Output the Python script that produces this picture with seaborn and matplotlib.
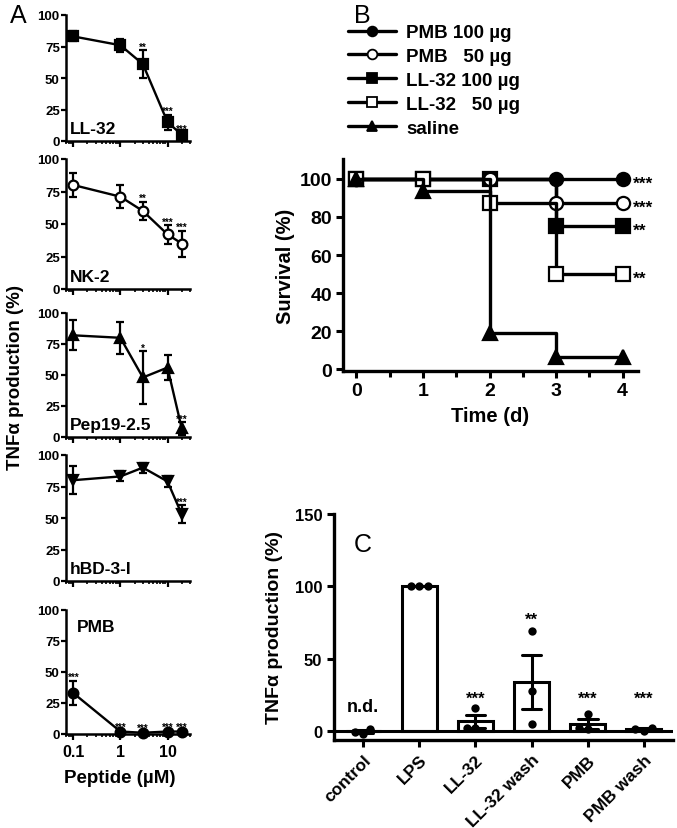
import seaborn as sns
import matplotlib.pyplot as plt
import matplotlib.ticker as mticker
from matplotlib.lines import Line2D
import numpy as np
import pandas as pd

# ---- panel A: TNFa production vs peptide concentration ----
conc = [0.1, 1, 3, 10, 20]
peptides = ['LL-32', 'NK-2', 'Pep19-2.5', 'hBD-3-I', 'PMB']
ll32_mean = [83, 76, 61, 15, 5]
ll32_err = [4, 5, 11, 6, 2]
ll32_sig = ['', '', '**', '***', '***']
nk2_mean = [80, 71, 60, 42, 35]
nk2_err = [9, 9, 7, 7, 10]
nk2_sig = ['', '', '**', '***', '***']
pep_mean = [82, 80, 48, 56, 7]
pep_err = [12, 13, 21, 10, 5]
pep_sig = ['', '', '*', '', '***']
hbd_mean = [80, 83, 90, 79, 53]
hbd_err = [11, 4, 4, 4, 7]
hbd_sig = ['', '', '', '', '***']
pmb_mean = [33, 2, 1, 2, 2]
pmb_err = [10, 1, 1, 1, 1]
pmb_sig = ['***', '***', '***', '***', '***']

# ---- panel B: survival ----
days = [0, 1, 2, 3, 4]
surv_pmb100 = [100, 100, 100, 100, 100]
surv_pmb50 = [100, 100, 100, 87.5, 87.5]
surv_ll100 = [100, 100, 100, 75, 75]
surv_ll50 = [100, 100, 87.5, 50, 50]
surv_saline = [100, 93.75, 18.75, 6.25, 6.25]
surv_sig = ['***', '***', '**', '**']

# ---- panel C: TNFa after washing ----
groups = ['control', 'LPS', 'LL-32', 'LL-32 wash', 'PMB', 'PMB wash']
vals_control = [-1.6, 1.8, -0.5]
vals_lps = [100, 100, 100]
vals_ll32 = [16, 2, 2.5]
vals_ll32w = [69, 28, 5]
vals_pmb = [12, 2, 1.5]
vals_pmbw = [0.5, 2.5, 1.5]
c_sig = ['n.d.', '', '***', '**', '***', '***']
c_sig_y = [14, 0, 20, 74, 20, 20]

sns.set_theme(style='ticks')
plt.rcParams['font.family'] = ['Liberation Sans', 'DejaVu Sans']
plt.rcParams['font.weight'] = 'bold'
plt.rcParams['axes.labelweight'] = 'bold'
plt.rcParams['axes.edgecolor'] = 'black'
plt.rcParams['xtick.color'] = 'black'
plt.rcParams['ytick.color'] = 'black'
plt.rcParams['text.color'] = 'black'
plt.rcParams['axes.labelcolor'] = 'black'

fig = plt.figure(figsize=(6.77, 8.29), dpi=100)
H = 829.0
W = 677.0

def px_axes(left, right, top, bottom):
    return fig.add_axes([left / W, 1 - bottom / H, (right - left) / W, (bottom - top) / H])

# panel A
a_means = [ll32_mean, nk2_mean, pep_mean, hbd_mean, pmb_mean]
a_errs = [ll32_err, nk2_err, pep_err, hbd_err, pmb_err]
a_sigs = [ll32_sig, nk2_sig, pep_sig, hbd_sig, pmb_sig]
a_markers = ['s', 'o', '^', 'v', 'o']
a_faces = ['black', 'white', 'black', 'black', 'black']
a_rows = [(16, 142), (160, 290), (314, 438), (456, 582), (611, 735)]

for i, name in enumerate(peptides):
    ax = px_axes(66, 190, a_rows[i][0], a_rows[i][1])
    ax.errorbar(conc, a_means[i], yerr=a_errs[i], fmt='none', ecolor='black',
                elinewidth=1.6, capsize=3.2, capthick=1.6, clip_on=False)
    sns.lineplot(x=conc, y=a_means[i], ax=ax, color='black', linewidth=1.7,
                 marker=a_markers[i], markersize=7, markerfacecolor=a_faces[i],
                 markeredgecolor='black', markeredgewidth=1.6, clip_on=False)
    for x, m, e, s in zip(conc, a_means[i], a_errs[i], a_sigs[i]):
        if s:
            ax.text(x, m + e - 1, s, ha='center', va='bottom', fontsize=7)
    ax.set_xscale('log')
    ax.set_xlim(0.07, 30)
    ax.set_ylim(0, 100)
    ax.set_yticks([0, 25, 50, 75, 100])
    ax.xaxis.set_major_locator(mticker.FixedLocator([0.1, 1, 10]))
    ax.xaxis.set_minor_locator(mticker.LogLocator(base=10, subs=np.arange(2, 10)))
    ax.tick_params(axis='y', labelsize=9.5, width=1.6, length=3.5, pad=1)
    ax.tick_params(axis='x', which='major', labelsize=11.5, width=1.6, length=4)
    ax.tick_params(axis='x', which='minor', width=1.2, length=2)
    if i < 4:
        ax.set_xticklabels([])
    else:
        ax.set_xticklabels(['0.1', '1', '10'])
    for sp in ['left', 'bottom']:
        ax.spines[sp].set_linewidth(1.8)
    sns.despine(ax=ax)
    if name == 'PMB':
        ax.text(0.09, 0.93, name, transform=ax.transAxes, fontsize=12.5, va='top')
    else:
        ax.text(0.03, 0.04, name, transform=ax.transAxes, fontsize=12.5, va='bottom')
    ax.set_xlabel('')
    ax.set_ylabel('')

fig.text(120 / W, 1 - 779 / H, 'Peptide (µM)', ha='center', va='center', fontsize=13.5)
fig.text(16 / W, 1 - 378 / H, 'TNFα production (%)', ha='center', va='center',
         rotation=90, fontsize=13.5)
fig.text(10 / W, 1 - 16 / H, 'A', fontsize=18, fontweight='normal', va='center')

# panel B
axb = px_axes(343, 638, 160, 372)
b_series = [
    ('PMB 100 µg', surv_pmb100, 'o', 'black'),
    ('LL-32 100 µg', surv_ll100, 's', 'black'),
    ('PMB   50 µg', surv_pmb50, 'o', 'white'),
    ('LL-32   50 µg', surv_ll50, 's', 'white'),
    ('saline', surv_saline, '^', 'black'),
]
handles = {}
for label, surv, mk, fc in b_series:
    sns.lineplot(x=days, y=surv, ax=axb, color='black', linewidth=2.4,
                 drawstyle='steps-post', marker=mk, markersize=9.5,
                 markerfacecolor=fc, markeredgecolor='black', markeredgewidth=1.6,
                 clip_on=False)
    handles[label] = Line2D([], [], color='black', linewidth=2.4, marker=mk,
                            markersize=7, markerfacecolor=fc, markeredgecolor='black',
                            markeredgewidth=1.3)
for surv, s in zip([surv_pmb100, surv_pmb50, surv_ll100, surv_ll50], surv_sig):
    axb.text(days[-1] + 0.16, surv[-1] - 4.5, s, ha='left', va='baseline',
             fontsize=12.5, clip_on=False)
axb.set_xlim(-0.2, 4.23)
axb.set_ylim(-1, 110.5)
axb.set_xticks(days)
axb.xaxis.set_minor_locator(mticker.MultipleLocator(0.5))
axb.set_yticks([0, 20, 40, 60, 80, 100])
axb.tick_params(axis='both', which='major', labelsize=14, width=2.2, length=5, pad=3)
axb.tick_params(axis='x', which='minor', width=2.2, length=4)
for sp in ['left', 'bottom']:
    axb.spines[sp].set_linewidth(2.4)
sns.despine(ax=axb)
axb.set_xlabel('Time (d)', fontsize=14.5, labelpad=5)
axb.set_ylabel('Survival (%)', fontsize=14.5, labelpad=3)
order = ['PMB 100 µg', 'PMB   50 µg', 'LL-32 100 µg', 'LL-32   50 µg', 'saline']
fig.legend([handles[k] for k in order], order, loc='upper left',
           bbox_to_anchor=(348 / W, 1 - 25 / H), frameon=False, fontsize=13.5,
           handlelength=2.55, handletextpad=0.55, labelspacing=0.36, borderaxespad=0,
           borderpad=0)
fig.text(354 / W, 1 - 16 / H, 'B', fontsize=18, fontweight='normal', va='center')

# panel C
axc = px_axes(334, 673, 515, 741)
df = pd.DataFrame({
    'group': np.repeat(groups, 3),
    'value': vals_control + vals_lps + vals_ll32 + vals_ll32w + vals_pmb + vals_pmbw,
})
sns.barplot(data=df, x='group', y='value', order=groups, ax=axc, errorbar='se',
            color='white', saturation=1, edgecolor='black', linewidth=2.2,
            width=0.63, capsize=0.35, err_kws={'color': 'black', 'linewidth': 2.2})
sns.swarmplot(data=df, x='group', y='value', order=groups, ax=axc, color='black',
              size=6)
axc.axhline(0, color='black', linewidth=2.2, zorder=1)
for i, (s, y) in enumerate(zip(c_sig, c_sig_y)):
    if s:
        axc.text(i, y, s, ha='center', va='baseline',
                 fontsize=13 if s == 'n.d.' else 12)
axc.set_xlim(-0.52, 5.52)
axc.set_ylim(-6, 150)
axc.set_yticks([0, 50, 100, 150])
axc.tick_params(axis='y', labelsize=12, width=2.2, length=5)
axc.tick_params(axis='x', labelsize=12.5, width=2.2, length=5)
plt.setp(axc.get_xticklabels(), rotation=45, ha='right', rotation_mode='anchor')
for sp in ['left', 'bottom']:
    axc.spines[sp].set_linewidth(2.4)
sns.despine(ax=axc)
axc.set_xlabel('')
axc.set_ylabel('TNFα production (%)', fontsize=14, labelpad=8)
fig.text(354 / W, 1 - 545 / H, 'C', fontsize=18, fontweight='normal', va='center')

fig.savefig('out.png', dpi=100)
